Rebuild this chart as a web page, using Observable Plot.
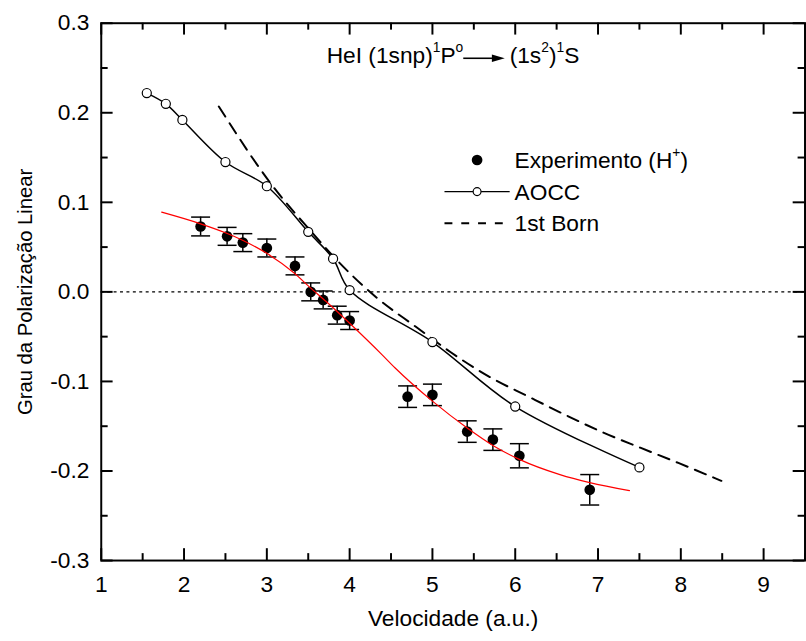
<!DOCTYPE html>
<html><head><meta charset="utf-8">
<script src="https://cdn.jsdelivr.net/npm/d3@7"></script>
<script src="https://cdn.jsdelivr.net/npm/@observablehq/plot@0.6"></script>
<style>
html,body{margin:0;padding:0;background:#fff;overflow:hidden;}
#wrap{width:806px;height:641px;overflow:hidden;position:relative;background:#fff;}
</style></head><body><div id="wrap"></div>
<script>
// ---- data ----
const expX   = [2.2, 2.52, 2.71, 3.0, 3.34, 3.53, 3.68, 3.85, 4.0, 4.7, 5.0, 5.42, 5.73, 6.05, 6.9];
const expY   = [0.073, 0.062, 0.055, 0.049, 0.029, 0.0, -0.009, -0.026, -0.032, -0.117, -0.115, -0.156, -0.165, -0.183, -0.221];
const expErr = [0.0105, 0.010, 0.010, 0.010, 0.010, 0.010, 0.010, 0.010, 0.010, 0.012, 0.012, 0.012, 0.012, 0.0135, 0.017];

const aoccX = [1.55, 1.78, 1.98, 2.5, 3.0, 3.5, 3.8, 4.0, 5.0, 6.0, 7.5];
const aoccY = [0.222, 0.210, 0.192, 0.145, 0.118, 0.067, 0.037, 0.002, -0.056, -0.128, -0.196];

const bornX = [2.42, 3.08, 3.52, 3.84, 4.32, 4.80, 5.23, 5.71, 6.14, 6.62, 7.06, 7.51, 7.97, 8.49];
const bornY = [0.207, 0.117, 0.069, 0.036, -0.006, -0.039, -0.068, -0.096, -0.116, -0.138, -0.157, -0.174, -0.191, -0.211];

const fitX = [1.73, 2.2, 2.5, 2.7, 3.0, 3.33, 3.52, 3.72, 4.0, 4.39, 4.55, 5.0, 5.42, 5.74, 6.05, 6.54, 6.9, 7.38];
const fitY = [0.089, 0.076, 0.066, 0.058, 0.043, 0.021, 0.005, -0.011, -0.035, -0.070, -0.085, -0.122, -0.152, -0.172, -0.187, -0.204, -0.213, -0.222];

const xTicks = [1, 2, 3, 4, 5, 6, 7, 8, 9];
const xTickLabels = ["1", "2", "3", "4", "5", "6", "7", "8", "9"];
const xMinorTicks = [1.5, 2.5, 3.5, 4.5, 5.5, 6.5, 7.5, 8.5, 9.5];
const yTicks = [-0.3, -0.2, -0.1, 0, 0.1, 0.2, 0.3];
const yTickLabels = ["-0.3", "-0.2", "-0.1", "0.0", "0.1", "0.2", "0.3"];
const yMinorTicks = [-0.25, -0.15, -0.05, 0.05, 0.15, 0.25];
const xDomain = [1, 9.5];
const yDomain = [-0.3, 0.3];

const xTitle = "Velocidade (a.u.)";
const yTitle = "Grau da Polarização Linear";
const legendLabels = ["Experimento (H", "AOCC", "1st Born"];

// ---- build tables ----
const exp = expX.map((x, i) => ({x, y: expY[i], e: expErr[i]}));
const aocc = aoccX.map((x, i) => ({x, y: aoccY[i]}));
const born = bornX.map((x, i) => ({x, y: bornY[i]}));
const fit = fitX.map((x, i) => ({x, y: fitY[i]}));
const xLab = new Map(xTicks.map((t, i) => [t, xTickLabels[i]]));
const yLab = new Map(yTicks.map((t, i) => [t, yTickLabels[i]]));

const FONT = "'Liberation Sans', Arial, Helvetica, sans-serif";
const FS = 23;
const W = 816, H = 641, mL = 102, mR = 1.5, mT = 23, mB = 74;
const plotH = H - mT - mB, plotW = W - mL - mR;
const MAJ = 12, MIN = 7;

const hbar = {draw(ctx, size) { const w = Math.sqrt(size / Math.PI); ctx.moveTo(-w, 0); ctx.lineTo(w, 0); }};

const chart = Plot.plot({
  width: W, height: H,
  marginLeft: mL, marginRight: mR, marginTop: mT, marginBottom: mB,
  style: {fontFamily: FONT, fontSize: FS + "px", background: "white", color: "black"},
  x: {domain: xDomain},
  y: {domain: yDomain},
  marks: [
    Plot.ruleY([0], {stroke: "black", strokeWidth: 1.2, strokeDasharray: "3,3.5"}),
    Plot.line(born, {x: "x", y: "y", stroke: "black", strokeWidth: 2, strokeDasharray: "12,8", curve: "monotone-x"}),
    Plot.line(aocc, {x: "x", y: "y", stroke: "black", strokeWidth: 1.5, curve: "catmull-rom"}),
    Plot.ruleX(exp, {x: "x", y1: d => d.y - d.e, y2: d => d.y + d.e, stroke: "black", strokeWidth: 1.5}),
    Plot.dot(exp, {x: "x", y: d => d.y + d.e, symbol: hbar, r: 9.6, fill: "none", stroke: "black", strokeWidth: 1.5}),
    Plot.dot(exp, {x: "x", y: d => d.y - d.e, symbol: hbar, r: 9.6, fill: "none", stroke: "black", strokeWidth: 1.5}),
    Plot.dot(exp, {x: "x", y: "y", r: 5.4, fill: "black", stroke: "none"}),
    Plot.line(fit, {x: "x", y: "y", stroke: "red", strokeWidth: 1.2, curve: "monotone-x"}),
    Plot.dot(aocc, {x: "x", y: "y", r: 4.6, fill: "white", stroke: "black", strokeWidth: 1.2}),
    // inward ticks
    Plot.ruleX(xTicks, {x: d => d, insetTop: plotH - MAJ, stroke: "black", strokeWidth: 2}),
    Plot.ruleX(xTicks, {x: d => d, insetBottom: plotH - MAJ, stroke: "black", strokeWidth: 2}),
    Plot.ruleX(xMinorTicks, {x: d => d, insetTop: plotH - MIN, stroke: "black", strokeWidth: 2}),
    Plot.ruleX(xMinorTicks, {x: d => d, insetBottom: plotH - MIN, stroke: "black", strokeWidth: 2}),
    Plot.ruleY(yTicks, {y: d => d, insetRight: plotW - MAJ, stroke: "black", strokeWidth: 2}),
    Plot.ruleY(yTicks, {y: d => d, insetLeft: plotW - MAJ, stroke: "black", strokeWidth: 2}),
    Plot.ruleY(yMinorTicks, {y: d => d, insetRight: plotW - MIN, stroke: "black", strokeWidth: 2}),
    Plot.ruleY(yMinorTicks, {y: d => d, insetLeft: plotW - MIN, stroke: "black", strokeWidth: 2}),
    Plot.axisX({ticks: xTicks, tickSize: 0, tickPadding: 16, tickFormat: d => xLab.get(d), label: null, fontSize: FS}),
    Plot.axisY({ticks: yTicks, tickSize: 0, tickPadding: 12, tickFormat: d => yLab.get(d), label: null, fontSize: FS}),
    Plot.frame({stroke: "black", strokeWidth: 2}),
    Plot.text([xTitle], {text: d => d, frameAnchor: "bottom", dy: 59, fontSize: FS, lineAnchor: "middle", textAnchor: "middle"}),
    Plot.text([yTitle], {text: d => d, frameAnchor: "left", dx: -77, dy: 0, rotate: -90, fontSize: 20.5, lineAnchor: "middle", textAnchor: "middle"})
  ]
});

document.getElementById("wrap").appendChild(chart);

// ---- title annotation and legend ----
const svg = d3.select(chart);
const g = svg.append("g").attr("font-family", FONT).attr("fill", "black");
const SUP = 14;
function addText(x, y, anchor, parts, fs) {
  const t = g.append("text").attr("x", x).attr("y", y).attr("text-anchor", anchor).attr("font-size", fs || FS);
  let shifted = false;
  parts.forEach(([s, sup]) => {
    const ts = t.append("tspan").text(s);
    if (sup && !shifted) { ts.attr("dy", -11).attr("font-size", SUP); shifted = true; }
    else if (sup) { ts.attr("font-size", SUP); }
    else if (shifted) { ts.attr("dy", 11); shifted = false; }
  });
  return t;
}
// title: HeI (1snp)¹P° → (1s²)¹S
const TY = 64;
addText(469, TY, "end", [["HeI (1snp)"], ["1", true], ["P"], ["o", true]]);
g.append("line").attr("x1", 469).attr("x2", 500).attr("y1", TY - 5).attr("y2", TY - 5).attr("stroke", "black").attr("stroke-width", 1.6);
g.append("path").attr("d", `M498,${TY - 8.7}L511,${TY - 5}L498,${TY - 1.3}Z`).attr("fill", "black");
addText(516, TY, "start", [["(1s"], ["2", true], [")"], ["1", true], ["S"]]);

// legend
const rows = [162, 194, 226];
g.append("circle").attr("cx", 483).attr("cy", rows[0]).attr("r", 5.4).attr("fill", "black");
g.append("line").attr("x1", 450).attr("x2", 516).attr("y1", rows[1]).attr("y2", rows[1]).attr("stroke", "black").attr("stroke-width", 1.5);
g.append("circle").attr("cx", 483).attr("cy", rows[1]).attr("r", 4).attr("fill", "white").attr("stroke", "black").attr("stroke-width", 1.2);
g.append("line").attr("x1", 450).attr("x2", 516).attr("y1", rows[2]).attr("y2", rows[2]).attr("stroke", "black").attr("stroke-width", 2).attr("stroke-dasharray", "8,9");
addText(521, rows[0] + 8, "start", [[legendLabels[0]], ["+", true], [")"]]);
addText(521, rows[1] + 8, "start", [[legendLabels[1]]]);
addText(521, rows[2] + 8, "start", [[legendLabels[2]]]);
</script>
</body></html>
